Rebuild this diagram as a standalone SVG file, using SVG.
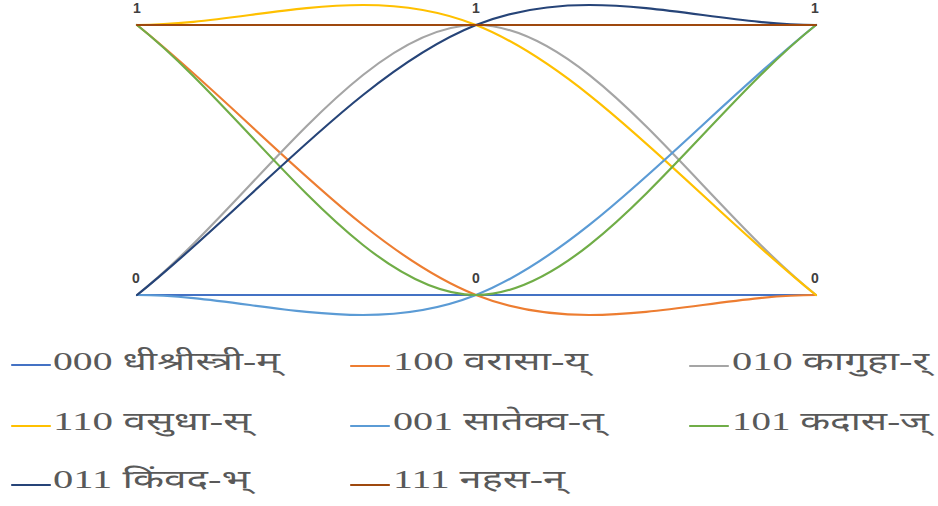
<svg xmlns="http://www.w3.org/2000/svg" width="938" height="506" viewBox="0 0 938 506">
<style>
.s{fill:none;stroke-width:2.2;stroke-linecap:round;stroke-linejoin:round}
.lab{font-family:"Liberation Sans","DejaVu Sans",sans-serif;font-size:14px;font-weight:bold;fill:#404040;text-anchor:middle}
.leg{font-family:"Liberation Serif","Noto Sans Devanagari","Lohit Devanagari","Noto Sans",serif;font-size:25px;fill:#595959}
.c000{stroke:#4472C4}.c100{stroke:#ED7D31}.c010{stroke:#A5A5A5}.c110{stroke:#FFC000}
.c001{stroke:#5B9BD5}.c101{stroke:#70AD47}.c011{stroke:#264478}.c111{stroke:#9E480E}
</style>
<rect width="938" height="506" fill="#ffffff"/>
<g id="connectors">
<path class="s c000" d="M137,295 L816,295"/>
<path class="s c100" d="M137,25 C250,115 363,250 476,295 C589,340 703,295 816,295"/>
<path class="s c010" d="M137,295 C250,205 363,25 476,25 C589,25 703,205 816,295"/>
<path class="s c110" d="M137,25 C250,25 363,-20 476,25 C589,70 703,205 816,295"/>
<path class="s c001" d="M137,295 C250,295 363,340 476,295 C589,250 703,115 816,25"/>
<path class="s c101" d="M137,25 C250,115 363,295 476,295 C589,295 703,115 816,25"/>
<path class="s c011" d="M137,295 C250,205 363,70 476,25 C589,-20 703,25 816,25"/>
<path class="s c111" d="M137,25 L816,25"/>
</g>
<g id="labels">
<text class="lab" x="137" y="13">1</text>
<text class="lab" x="476" y="13">1</text>
<text class="lab" x="815" y="13">1</text>
<text class="lab" x="136" y="283">0</text>
<text class="lab" x="476" y="283">0</text>
<text class="lab" x="815" y="283">0</text>
</g>
<g id="legend">
<g id="leg000"><path class="s c000" d="M12,365 L50,365"/><text class="leg" x="53" y="370" textLength="227" lengthAdjust="spacingAndGlyphs">000 धीश्रीस्त्री-म्</text></g>
<g id="leg100"><path class="s c100" d="M351,366 L389,366"/><text class="leg" x="393" y="370" textLength="195" lengthAdjust="spacingAndGlyphs">100 वरासा-य्</text></g>
<g id="leg010"><path class="s c010" d="M690,366 L728,366"/><text class="leg" x="732" y="370" textLength="197" lengthAdjust="spacingAndGlyphs">010 कागुहा-र्</text></g>
<g id="leg110"><path class="s c110" d="M12,426 L50,426"/><text class="leg" x="53" y="430" textLength="198" lengthAdjust="spacingAndGlyphs">110 वसुधा-स्</text></g>
<g id="leg001"><path class="s c001" d="M351,426 L389,426"/><text class="leg" x="393" y="430" textLength="211" lengthAdjust="spacingAndGlyphs">001 सातेक्व-त्</text></g>
<g id="leg101"><path class="s c101" d="M690,426 L728,426"/><text class="leg" x="732" y="430" textLength="197" lengthAdjust="spacingAndGlyphs">101 कदास-ज्</text></g>
<g id="leg011"><path class="s c011" d="M12,485 L50,485"/><text class="leg" x="53" y="488" textLength="197" lengthAdjust="spacingAndGlyphs">011 किंवद-भ्</text></g>
<g id="leg111"><path class="s c111" d="M351,485 L389,485"/><text class="leg" x="393" y="488" textLength="172" lengthAdjust="spacingAndGlyphs">111 नहस-न्</text></g>
</g>
</svg>
